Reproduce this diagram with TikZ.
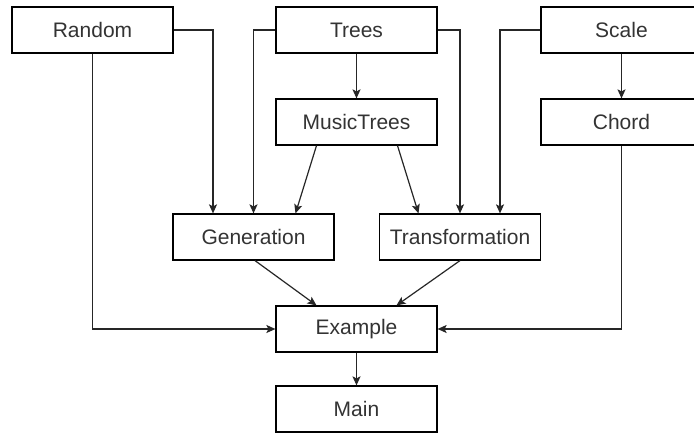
\documentclass[tikz,border=0pt]{standalone}
\usepackage{fontspec}
\setmainfont{Liberation Sans}
\usetikzlibrary{arrows.meta}
\begin{document}
\begin{tikzpicture}[x=1pt,y=-1pt,
  box/.style={draw=black,line width=1.2pt,minimum width=161pt,minimum height=46pt,
    inner sep=0pt,text=black!80,font=\fontsize{21}{25}\selectfont},
  link/.style={draw=black!85,line width=1.2pt,-{Stealth[length=9pt,width=8pt,inset=2pt]}}]
\useasboundingbox[fill=white] (0,0) rectangle (694,433);

% module boxes
\node[box] (Random)    at (92.5,30)  {Random};
\node[box] (Trees)     at (356.5,30) {Trees};
\node[box] (Scale)     at (621.5,30) {Scale};
\node[box] (MusicTrees) at (356.5,122) {MusicTrees};
\node[box] (Chord)     at (621.5,122) {Chord};
\node[box] (Generation) at (253.5,237) {Generation};
\node[box] (Transformation) at (460,237) {Transformation};
\node[box] (Example)   at (356.5,329) {Example};
\node[box] (Main)      at (356.5,409) {Main};

% dependencies
\draw[link] (Trees.south) -- (MusicTrees.north);
\draw[link] (Scale.south) -- (Chord.north);
\draw[link] (Random.east) -| ([xshift=-40.5pt]Generation.north);
\draw[link] (Trees.west) -| (Generation.north);
\draw[link] ([xshift=-40pt]MusicTrees.south) -- ([xshift=42pt]Generation.north);
\draw[link] ([xshift=41pt]MusicTrees.south) -- ([xshift=-41.5pt]Transformation.north);
\draw[link] (Trees.east) -| (Transformation.north);
\draw[link] (Scale.west) -| ([xshift=40pt]Transformation.north);
\draw[link] (Random.south) |- (Example.west);
\draw[link] (Chord.south) |- (Example.east);
\draw[link] ([xshift=1.5pt]Generation.south) -- ([xshift=-40pt]Example.north);
\draw[link] (Transformation.south) -- ([xshift=40pt]Example.north);
\draw[link] (Example.south) -- (Main.north);
\end{tikzpicture}
\end{document}
